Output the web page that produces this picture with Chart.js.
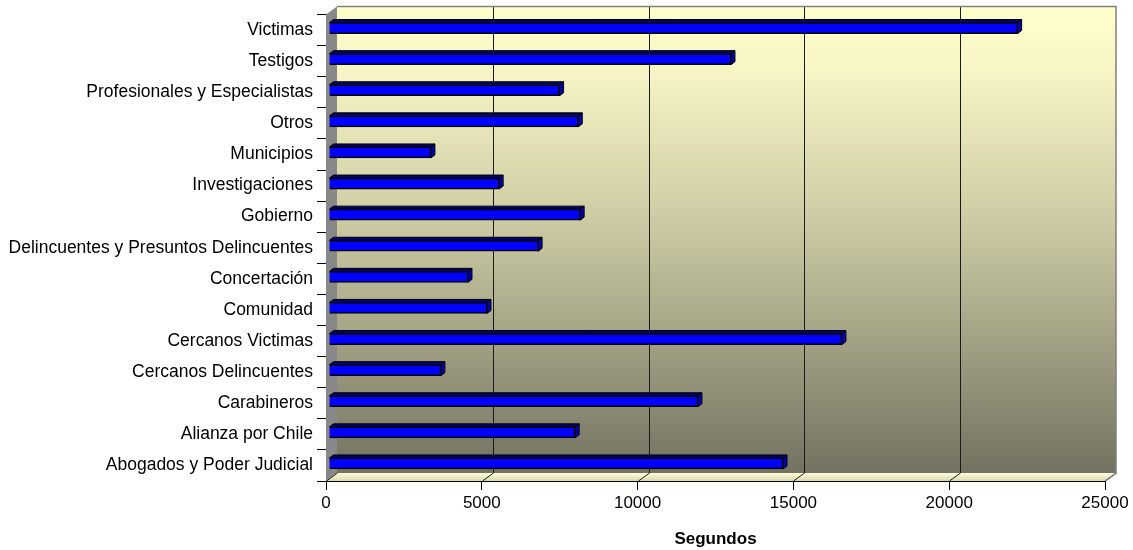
<!DOCTYPE html>
<html>
<head>
<meta charset="utf-8">
<script src="https://cdn.jsdelivr.net/npm/chart.js@4"></script>
<style>
  html, body { margin: 0; padding: 0; background: #fff; }
</style>
</head>
<body>
<canvas id="chart" width="1133" height="550"></canvas>
<script>
// categorias de arriba hacia abajo
const categorias = [
  'Victimas', 'Testigos', 'Profesionales y Especialistas', 'Otros', 'Municipios',
  'Investigaciones', 'Gobierno', 'Delincuentes y Presuntos Delincuentes', 'Concertación',
  'Comunidad', 'Cercanos Victimas', 'Cercanos Delincuentes', 'Carabineros',
  'Alianza por Chile', 'Abogados y Poder Judicial'
];
const segundos = [
  22100, 12900, 7400, 8000, 3270,
  5460, 8060, 6710, 4460,
  5070, 16460, 3590, 11840,
  7900, 14570
];
const ticksX = [0, 5000, 10000, 15000, 20000, 25000];

const DX = 11, DY = 8;   // profundidad de la caja
const BDX = 4, BDY = 3;  // profundidad de las barras
const OX = 3, OY = -2;   // barras a media profundidad

const caja3d = {
  id: 'caja3d',
  beforeDatasetsDraw(chart) {
    const { ctx, chartArea: a, scales: { x } } = chart;
    ctx.save();
    // pared del fondo
    const g = ctx.createLinearGradient(0, a.top - DY, 0, a.bottom - DY);
    g.addColorStop(0, '#FFFFCC');
    g.addColorStop(0.15, '#F6F4C4');
    g.addColorStop(0.5, '#C6C59F');
    g.addColorStop(1, '#737261');
    ctx.fillStyle = g;
    ctx.fillRect(a.left + DX, a.top - DY, a.right - a.left, a.bottom - a.top);

    // pared izquierda
    ctx.fillStyle = '#888888';
    ctx.beginPath();
    ctx.moveTo(a.left, a.top);
    ctx.lineTo(a.left + DX, a.top - DY);
    ctx.lineTo(a.left + DX, a.bottom - DY);
    ctx.lineTo(a.left, a.bottom);
    ctx.closePath();
    ctx.fill();

    // piso
    const gf = ctx.createLinearGradient(0, a.bottom - DY, 0, a.bottom);
    gf.addColorStop(0, '#FFFFDC');
    gf.addColorStop(1, '#DAD8AE');
    ctx.fillStyle = gf;
    ctx.beginPath();
    ctx.moveTo(a.left, a.bottom);
    ctx.lineTo(a.left + DX, a.bottom - DY);
    ctx.lineTo(a.right + DX, a.bottom - DY);
    ctx.lineTo(a.right, a.bottom);
    ctx.closePath();
    ctx.fill();

    // lineas de division
    ctx.lineWidth = 1;
    ctx.strokeStyle = '#1A1A1A';
    ticksX.forEach(v => {
      const px = Math.round(x.getPixelForValue(v)) + 0.5;
      if (v > 0 && v < 25000) {
        ctx.beginPath();
        ctx.moveTo(px + DX, a.top - DY);
        ctx.lineTo(px + DX, a.bottom - DY);
        ctx.stroke();
      }
      ctx.beginPath();
      ctx.moveTo(px, a.bottom);
      ctx.lineTo(px + DX, a.bottom - DY);
      ctx.stroke();
    });

    // bordes grises
    ctx.strokeStyle = '#808080';
    ctx.lineWidth = 1.5;
    ctx.beginPath();
    ctx.moveTo(a.left + DX, a.top - DY);
    ctx.lineTo(a.right + DX, a.top - DY);
    ctx.lineTo(a.right + DX, a.bottom - DY);
    ctx.lineTo(a.right, a.bottom);
    ctx.stroke();
    ctx.restore();

    // las barras se dibujan desplazadas hacia el fondo
    ctx.save();
    ctx.translate(OX, OY);
  },
  afterDatasetsDraw(chart) {
    const ctx = chart.ctx;
    ctx.lineWidth = 1;
    ctx.strokeStyle = '#000';
    chart.getDatasetMeta(0).data.forEach(bar => {
      const { x, y, base, height } = bar.getProps(['x', 'y', 'base', 'height'], true);
      const t = y - height / 2, b = y + height / 2;
      // cara superior
      ctx.fillStyle = '#000070';
      ctx.beginPath();
      ctx.moveTo(base, t);
      ctx.lineTo(base + BDX, t - BDY);
      ctx.lineTo(x + BDX, t - BDY);
      ctx.lineTo(x, t);
      ctx.closePath();
      ctx.fill();
      ctx.stroke();
      // cara lateral
      ctx.fillStyle = '#0000A8';
      ctx.beginPath();
      ctx.moveTo(x, t);
      ctx.lineTo(x + BDX, t - BDY);
      ctx.lineTo(x + BDX, b - BDY);
      ctx.lineTo(x, b);
      ctx.closePath();
      ctx.fill();
      ctx.stroke();
    });
    ctx.restore();
  }
};

const familia = '"Liberation Sans", Arial, sans-serif';

new Chart(document.getElementById('chart').getContext('2d'), {
  type: 'bar',
  data: {
    labels: categorias,
    datasets: [{
      data: segundos,
      backgroundColor: '#0000FF',
      borderColor: '#000',
      borderWidth: 1.5,
      barThickness: 11
    }]
  },
  options: {
    indexAxis: 'y',
    responsive: false,
    animation: false,
    layout: { padding: { top: 14, right: 28, left: 0, bottom: 0 } },
    plugins: { legend: { display: false }, tooltip: { enabled: false } },
    scales: {
      x: {
        min: 0,
        max: 25000,
        ticks: {
          stepSize: 5000, color: '#000', font: { family: familia, size: 17 },
          padding: 3, maxRotation: 0,
          callback: v => String(v)
        },
        grid: { drawOnChartArea: false, color: '#000', tickLength: 9 },
        border: { color: '#000', width: 1 },
        title: {
          display: true,
          text: 'Segundos',
          color: '#000',
          font: { family: familia, size: 17, weight: 'bold' },
          padding: { top: 0, bottom: 0 }
        },
        afterFit: s => { s.height = 69; }
      },
      y: {
        ticks: { color: '#000', font: { family: familia, size: 17.5 }, padding: 4, autoSkip: false },
        grid: { drawOnChartArea: false, color: '#000', tickLength: 9, offset: true },
        border: { color: '#000', width: 1 },
        afterFit: s => { s.width = 326; }
      }
    }
  },
  plugins: [caja3d]
});
</script>
</body>
</html>
